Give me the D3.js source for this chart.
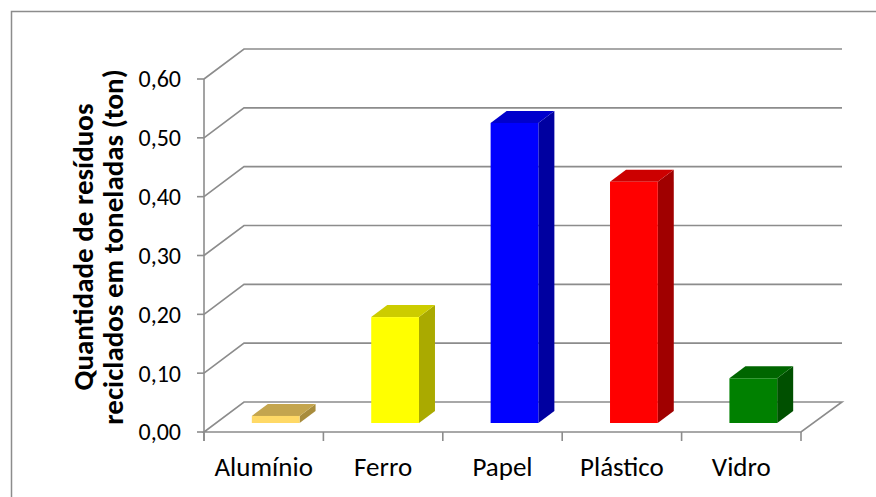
<!DOCTYPE html>
<html><head><meta charset="utf-8">
<script src="https://cdn.jsdelivr.net/npm/d3@7"></script>
<style>body{margin:0;background:#fff}svg{display:block}</style>
</head><body>
<script>
const categories = ["Alumínio", "Ferro", "Papel", "Plástico", "Vidro"];
const values = [0.012, 0.18, 0.51, 0.41, 0.076];
const yTicks = [0, 0.1, 0.2, 0.3, 0.4, 0.5, 0.6];
const yTickLabels = ["0,00", "0,10", "0,20", "0,30", "0,40", "0,50", "0,60"];
const yTitle = ["Quantidade de resíduos", "reciclados em toneladas (ton)"];
const frontColors = ["#FFD966", "#FFFF00", "#0000FF", "#FF0000", "#008000"];
const topColors = ["#C4A54E", "#CCCC00", "#0000CC", "#CC0000", "#006600"];
const sideColors = ["#A88C3C", "#AAAA00", "#0000A0", "#A00000", "#005000"];

const W = 876, H = 497;
const svg = d3.select("body").append("svg").attr("width", W).attr("height", H);
const font = "Carlito, Calibri, 'Open Sans', sans-serif";

// outer border
svg.append("path").attr("d", `M11.5,${H} L11.5,11.5 L${W},11.5`)
  .attr("fill", "none").attr("stroke", "#8c8c8c").attr("stroke-width", 1.5);

const x = d3.scaleBand().domain(categories).range([204, 801]).paddingInner(0).paddingOuter(0);
const y = d3.scaleLinear().domain([0, 0.6]).range([432, 79]);
const DX = 40, DY = -30; // depth offsets
const gridColor = "#8c8c8c";

const g = svg.append("g");
yTicks.forEach((t, i) => {
  const yy = y(t);
  if (i === 0) {
    g.append("path")
      .attr("d", `M${x.range()[0]},${yy} L${x.range()[1]},${yy} L${x.range()[1] + DX + 1},${yy + DY} L${x.range()[0] + DX},${yy + DY} Z`)
      .attr("fill", "none").attr("stroke", gridColor).attr("stroke-width", 1.6);
  } else {
    g.append("path")
      .attr("d", `M${x.range()[0]},${yy} L${x.range()[0] + DX},${yy + DY} L${x.range()[1] + DX + 1},${yy + DY}`)
      .attr("fill", "none").attr("stroke", gridColor).attr("stroke-width", 1.6);
  }
  g.append("line").attr("x1", 197).attr("x2", 204).attr("y1", yy).attr("y2", yy)
    .attr("stroke", gridColor).attr("stroke-width", 1.6);
  svg.append("text").attr("x", 181).attr("y", yy).attr("dy", "0.35em")
    .attr("text-anchor", "end").attr("font-family", font).attr("font-size", 24)
    .attr("fill", "#000").text(yTickLabels[i]);
});
g.append("line").attr("x1", 204).attr("x2", 204).attr("y1", y(0.6)).attr("y2", 441)
  .attr("stroke", gridColor).attr("stroke-width", 1.6);
const tickXs = categories.map(c => x(c)).concat([x.range()[1]]);
tickXs.forEach(tx => {
  g.append("line").attr("x1", tx).attr("x2", tx).attr("y1", 432).attr("y2", 441)
    .attr("stroke", gridColor).attr("stroke-width", 1.6);
});

// bars
const f0 = 0.3, f1 = 0.7, bw = 0.4;
categories.forEach((c, i) => {
  const bx0 = x(c) + x.bandwidth() * (1 - bw) / 2 + DX * f0;
  const bx1 = bx0 + x.bandwidth() * bw;
  const yb = y(0) + DY * f0;
  const yt = y(values[i]) + DY * f0;
  const ddx = DX * (f1 - f0), ddy = DY * (f1 - f0);
  const bg = svg.append("g");
  bg.append("path").attr("d", `M${bx1},${yt} L${bx1 + ddx},${yt + ddy} L${bx1 + ddx},${yb + ddy} L${bx1},${yb} Z`)
    .attr("fill", sideColors[i]);
  bg.append("path").attr("d", `M${bx0},${yt} L${bx0 + ddx},${yt + ddy} L${bx1 + ddx},${yt + ddy} L${bx1},${yt} Z`)
    .attr("fill", topColors[i]);
  bg.append("rect").attr("x", bx0).attr("y", yt).attr("width", bx1 - bx0).attr("height", yb - yt)
    .attr("fill", frontColors[i]);
});

categories.forEach(c => {
  svg.append("text").attr("x", x(c) + x.bandwidth() / 2).attr("y", 467).attr("dy", "0.35em")
    .attr("text-anchor", "middle").attr("font-family", font).attr("font-size", 27)
    .attr("fill", "#000").text(c);
});

const tt = svg.append("text").attr("transform", "translate(98,247) rotate(-90)")
  .attr("text-anchor", "middle").attr("font-family", font).attr("font-size", 29)
  .attr("font-weight", "bold").attr("fill", "#000");
tt.append("tspan").attr("x", 0).attr("y", -15).attr("dy", "0.35em").text(yTitle[0]);
tt.append("tspan").attr("x", 0).attr("y", 15).attr("dy", "0.35em").text(yTitle[1]);
</script>
</body></html>
